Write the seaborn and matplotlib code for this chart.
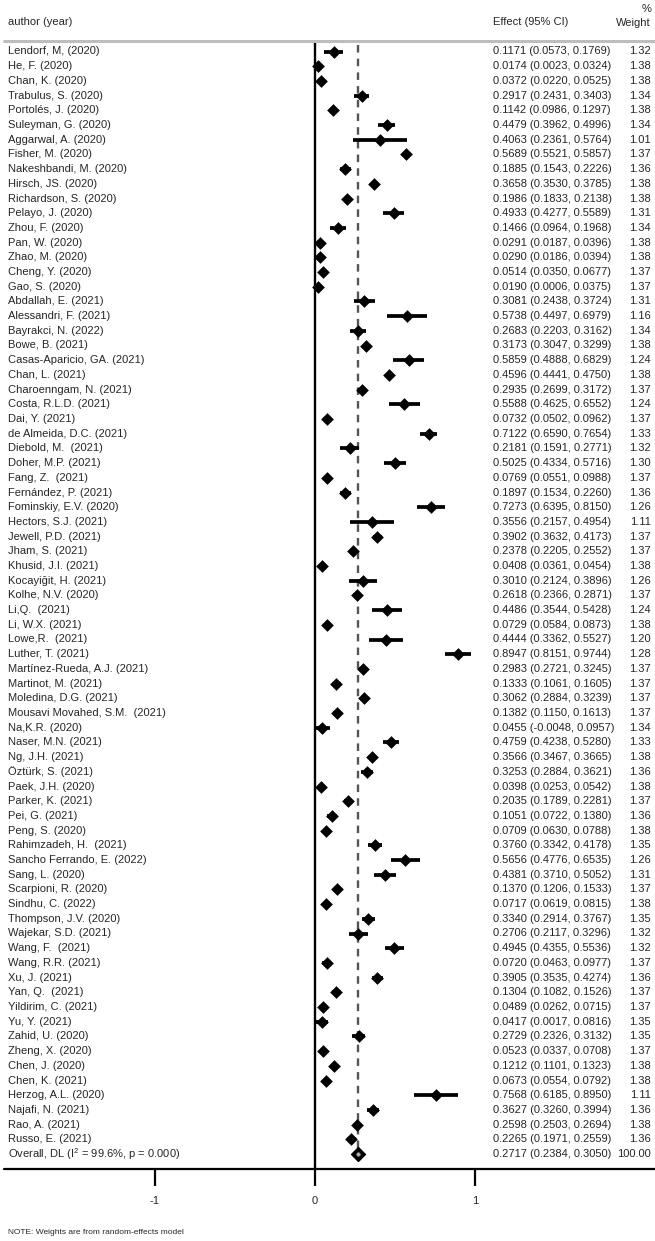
import numpy as np
import pandas as pd
import matplotlib
matplotlib.use('Agg')
import matplotlib.pyplot as plt
import seaborn as sns

# study rows, top to bottom
authors = ['Lendorf, M, (2020)', 'He, F. (2020)', 'Chan, K. (2020)', 'Trabulus, S. (2020)',
           'Portolés, J. (2020)', 'Suleyman, G. (2020)', 'Aggarwal, A. (2020)', 'Fisher, M. (2020)',
           'Nakeshbandi, M. (2020)', 'Hirsch, JS. (2020)', 'Richardson, S. (2020)', 'Pelayo, J. (2020)',
           'Zhou, F. (2020)', 'Pan, W. (2020)', 'Zhao, M. (2020)', 'Cheng, Y. (2020)', 'Gao, S. (2020)',
           'Abdallah, E. (2021)', 'Alessandri, F. (2021)', 'Bayrakci, N. (2022)', 'Bowe, B. (2021)',
           'Casas-Aparicio, GA. (2021)', 'Chan, L. (2021)', 'Charoenngam, N. (2021)', 'Costa, R.L.D. (2021)',
           'Dai, Y. (2021)', 'de Almeida, D.C. (2021)', 'Diebold, M.  (2021)', 'Doher, M.P. (2021)',
           'Fang, Z.  (2021)', 'Fernández, P. (2021)', 'Fominskiy, E.V. (2020)', 'Hectors, S.J. (2021)',
           'Jewell, P.D. (2021)', 'Jham, S. (2021)', 'Khusid, J.I. (2021)', 'Kocayiğit, H. (2021)',
           'Kolhe, N.V. (2020)', 'Li,Q.  (2021)', 'Li, W.X. (2021)', 'Lowe,R.  (2021)', 'Luther, T. (2021)',
           'Martínez-Rueda, A.J. (2021)', 'Martinot, M. (2021)', 'Moledina, D.G. (2021)',
           'Mousavi Movahed, S.M.  (2021)', 'Na,K.R. (2020)', 'Naser, M.N. (2021)', 'Ng, J.H. (2021)',
           'Öztürk, S. (2021)', 'Paek, J.H. (2020)', 'Parker, K. (2021)', 'Pei, G. (2021)', 'Peng, S. (2020)',
           'Rahimzadeh, H.  (2021)', 'Sancho Ferrando, E. (2022)', 'Sang, L. (2020)', 'Scarpioni, R. (2020)',
           'Sindhu, C. (2022)', 'Thompson, J.V. (2020)', 'Wajekar, S.D. (2021)', 'Wang, F.  (2021)',
           'Wang, R.R. (2021)', 'Xu, J. (2021)', 'Yan, Q.  (2021)', 'Yildirim, C. (2021)', 'Yu, Y. (2021)',
           'Zahid, U. (2020)', 'Zheng, X. (2020)', 'Chen, J. (2020)', 'Chen, K. (2021)', 'Herzog, A.L. (2020)',
           'Najafi, N. (2021)', 'Rao, A. (2021)', 'Russo, E. (2021)']

effect = [0.1171, 0.0174, 0.0372, 0.2917, 0.1142, 0.4479, 0.4063, 0.5689, 0.1885, 0.3658,
          0.1986, 0.4933, 0.1466, 0.0291, 0.0290, 0.0514, 0.0190, 0.3081, 0.5738, 0.2683,
          0.3173, 0.5859, 0.4596, 0.2935, 0.5588, 0.0732, 0.7122, 0.2181, 0.5025, 0.0769,
          0.1897, 0.7273, 0.3556, 0.3902, 0.2378, 0.0408, 0.3010, 0.2618, 0.4486, 0.0729,
          0.4444, 0.8947, 0.2983, 0.1333, 0.3062, 0.1382, 0.0455, 0.4759, 0.3566, 0.3253,
          0.0398, 0.2035, 0.1051, 0.0709, 0.3760, 0.5656, 0.4381, 0.1370, 0.0717, 0.3340,
          0.2706, 0.4945, 0.0720, 0.3905, 0.1304, 0.0489, 0.0417, 0.2729, 0.0523, 0.1212,
          0.0673, 0.7568, 0.3627, 0.2598, 0.2265]

lower = [0.0573, 0.0023, 0.0220, 0.2431, 0.0986, 0.3962, 0.2361, 0.5521, 0.1543, 0.3530,
         0.1833, 0.4277, 0.0964, 0.0187, 0.0186, 0.0350, 0.0006, 0.2438, 0.4497, 0.2203,
         0.3047, 0.4888, 0.4441, 0.2699, 0.4625, 0.0502, 0.6590, 0.1591, 0.4334, 0.0551,
         0.1534, 0.6395, 0.2157, 0.3632, 0.2205, 0.0361, 0.2124, 0.2366, 0.3544, 0.0584,
         0.3362, 0.8151, 0.2721, 0.1061, 0.2884, 0.1150, -0.0048, 0.4238, 0.3467, 0.2884,
         0.0253, 0.1789, 0.0722, 0.0630, 0.3342, 0.4776, 0.3710, 0.1206, 0.0619, 0.2914,
         0.2117, 0.4355, 0.0463, 0.3535, 0.1082, 0.0262, 0.0017, 0.2326, 0.0337, 0.1101,
         0.0554, 0.6185, 0.3260, 0.2503, 0.1971]

upper = [0.1769, 0.0324, 0.0525, 0.3403, 0.1297, 0.4996, 0.5764, 0.5857, 0.2226, 0.3785,
         0.2138, 0.5589, 0.1968, 0.0396, 0.0394, 0.0677, 0.0375, 0.3724, 0.6979, 0.3162,
         0.3299, 0.6829, 0.4750, 0.3172, 0.6552, 0.0962, 0.7654, 0.2771, 0.5716, 0.0988,
         0.2260, 0.8150, 0.4954, 0.4173, 0.2552, 0.0454, 0.3896, 0.2871, 0.5428, 0.0873,
         0.5527, 0.9744, 0.3245, 0.1605, 0.3239, 0.1613, 0.0957, 0.5280, 0.3665, 0.3621,
         0.0542, 0.2281, 0.1380, 0.0788, 0.4178, 0.6535, 0.5052, 0.1533, 0.0815, 0.3767,
         0.3296, 0.5536, 0.0977, 0.4274, 0.1526, 0.0715, 0.0816, 0.3132, 0.0708, 0.1323,
         0.0792, 0.8950, 0.3994, 0.2694, 0.2559]

weight = [1.32, 1.38, 1.38, 1.34, 1.38, 1.34, 1.01, 1.37, 1.36, 1.38,
          1.38, 1.31, 1.34, 1.38, 1.38, 1.37, 1.37, 1.31, 1.16, 1.34,
          1.38, 1.24, 1.38, 1.37, 1.24, 1.37, 1.33, 1.32, 1.30, 1.37,
          1.36, 1.26, 1.11, 1.37, 1.37, 1.38, 1.26, 1.37, 1.24, 1.38,
          1.20, 1.28, 1.37, 1.37, 1.37, 1.37, 1.34, 1.33, 1.38, 1.36,
          1.38, 1.37, 1.36, 1.38, 1.35, 1.26, 1.31, 1.37, 1.38, 1.35,
          1.32, 1.32, 1.37, 1.36, 1.37, 1.37, 1.35, 1.35, 1.37, 1.38,
          1.38, 1.11, 1.36, 1.38, 1.36]

overall_label = 'Overall, DL (I$^{2}$ = 99.6%, p = 0.000)'
overall_effect = 0.2717
overall_lower = 0.2384
overall_upper = 0.3050
overall_weight = 100.00

axis_ticks = [-1, 0, 1]

# layout in pixels of a 655x1241 figure
W, H = 655, 1241
X0_PX, UNIT_PX = 315, 160     # pixel of effect 0, pixels per unit
ROW0_PX, ROW_H = 51.5, 14.7   # first row centre, row pitch


def ry(px):
    return (px - ROW0_PX) / ROW_H


def fx(px):
    return px / W


df = pd.DataFrame({'author': authors, 'effect': effect, 'lower': lower,
                   'upper': upper, 'weight': weight})
df['row'] = np.arange(len(df))
n = len(df)

sns.set_theme(style='white')
plt.rcParams['font.family'] = ['Liberation Sans', 'DejaVu Sans']
plt.rcParams['mathtext.default'] = 'regular'

fig = plt.figure(figsize=(W / 100, H / 100), dpi=100)
ax = fig.add_axes([0, 0, 1, 1])

# CI bars and point estimates
ax.hlines(df['row'], df['lower'], df['upper'], color='black', lw=2.7, zorder=2)
sns.scatterplot(data=df, x='effect', y='row', marker='D', s=42, color='black',
                edgecolor='black', linewidth=0, ax=ax, zorder=3, legend=False)

# overall estimate
ax.scatter([overall_effect], [n], marker='D', s=50, color='black', zorder=3)
ax.scatter([overall_effect], [n], marker='o', s=7, color='#bbbbbb',
           edgecolor='#777777', linewidth=0.5, zorder=4)

# reference lines
ax.vlines(0, ry(41), ry(1169), color='black', lw=1.7, zorder=1)
ax.vlines(overall_effect, ry(45), n - 0.35, color='#555555', lw=1.7,
          linestyles=(0, (3.2, 2.6)), zorder=1)

ytr = ax.get_yaxis_transform()
ax.plot([fx(4), fx(655)], [ry(41), ry(41)], transform=ytr, color='#bdbdbd', lw=2.2, clip_on=False)
ax.plot([fx(4), fx(655)], [ry(1169), ry(1169)], transform=ytr, color='black', lw=1.6, clip_on=False)
ax.vlines(axis_ticks, ry(1169), ry(1186), color='black', lw=1.6)
for t in axis_ticks:
    ax.text(t, ry(1201), str(t), ha='center', va='center', fontsize=8)

# headers
ax.text(fx(8), ry(22), 'author (year)', transform=ytr, ha='left', va='center', fontsize=8)
ax.text(fx(493), ry(22), 'Effect (95% CI)', transform=ytr, ha='left', va='center', fontsize=8)
ax.text(fx(651), ry(9), '%', transform=ytr, ha='right', va='center', fontsize=8)
ax.text(fx(651), ry(23), 'Weight', transform=ytr, ha='right', va='center', fontsize=8)

# row texts
for _, r in df.iterrows():
    ax.text(fx(8), r['row'], r['author'], transform=ytr, ha='left', va='center', fontsize=8)
    ax.text(fx(493), r['row'], f"{r['effect']:.4f} ({r['lower']:.4f}, {r['upper']:.4f})",
            transform=ytr, ha='left', va='center', fontsize=8)
    ax.text(fx(651), r['row'], f"{r['weight']:.2f}", transform=ytr, ha='right', va='center', fontsize=8)

ax.text(fx(8), n, overall_label, transform=ytr, ha='left', va='center', fontsize=8)
ax.text(fx(493), n, f"{overall_effect:.4f} ({overall_lower:.4f}, {overall_upper:.4f})",
        transform=ytr, ha='left', va='center', fontsize=8)
ax.text(fx(651), n, f"{overall_weight:.2f}", transform=ytr, ha='right', va='center', fontsize=8)

ax.text(fx(8), ry(1232), 'NOTE: Weights are from random-effects model', transform=ytr,
        ha='left', va='center', fontsize=6)

ax.set_xlim(-X0_PX / UNIT_PX, (W - X0_PX) / UNIT_PX)
ax.set_ylim(ry(H), ry(0))
ax.axis('off')

fig.savefig('out.png', dpi=100)
